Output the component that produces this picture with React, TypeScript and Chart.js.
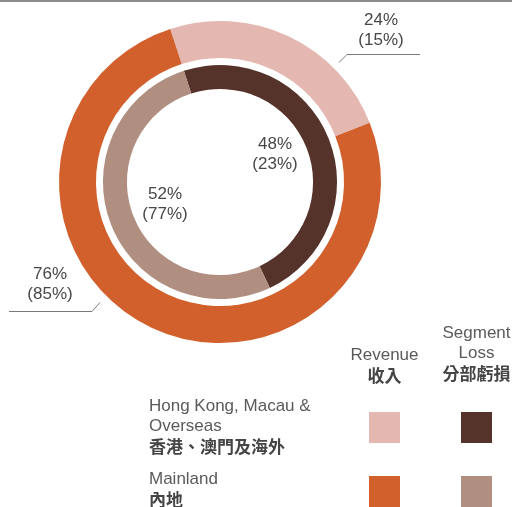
import React, { useEffect, useRef } from "react";
import { Chart, registerables } from "chart.js";

Chart.register(...registerables);

// ---- data ----
const regionsEn = ["Hong Kong, Macau &\nOverseas", "Mainland"];
const regionsZh = ["香港、澳門及海外", "內地"];
const revenueShare = [24, 76];
const revenuePrior = [15, 85];
const lossShare = [48, 52];
const lossPrior = [23, 77];
const revenueColors = ["#E4B7B0", "#D2602D"];
const lossColors = ["#56332A", "#B08F81"];
const seriesTitlesEn = ["Revenue", "Segment\nLoss"];
const seriesTitlesZh = ["收入", "分部虧損"];

const FONT = '"Liberation Sans", Arial, Helvetica, "Noto Sans CJK TC", sans-serif';
const CJK = '"Noto Sans CJK TC", "Noto Sans CJK SC", sans-serif';

const leaderLines = {
  id: "leaderLines",
  afterDraw(chart: any) {
    const ctx = chart.ctx;
    ctx.save();
    ctx.strokeStyle = "#7a7a7a";
    ctx.lineWidth = 1;
    ctx.beginPath();
    ctx.moveTo(339, 62.5);
    ctx.lineTo(347, 54.5);
    ctx.lineTo(420, 54.5);
    ctx.moveTo(9, 311.5);
    ctx.lineTo(92, 311.5);
    ctx.lineTo(100, 302.5);
    ctx.stroke();
    ctx.restore();
  },
};

function pct(v: number, p: number) {
  return `${v}%\n(${p}%)`;
}

const labelStyle = (cx: number, top: number): React.CSSProperties => ({
  position: "absolute",
  left: cx - 60,
  width: 120,
  top,
  textAlign: "center",
  fontFamily: FONT,
  fontSize: 17,
  lineHeight: "20px",
  color: "#474747",
  whiteSpace: "pre-line",
});

export default function App() {
  const ref = useRef<HTMLCanvasElement | null>(null);

  useEffect(() => {
    if (!ref.current) return;
    const chart = new Chart(ref.current, {
      type: "doughnut",
      data: {
        labels: regionsZh,
        datasets: [
          {
            data: revenueShare,
            backgroundColor: revenueColors,
            borderWidth: 0,
            weight: 37,
          } as any,
          {
            data: [100],
            backgroundColor: ["rgba(0,0,0,0)"],
            borderWidth: 0,
            weight: 7,
          } as any,
          {
            data: lossShare,
            backgroundColor: lossColors,
            borderWidth: 0,
            weight: 24,
          } as any,
        ],
      },
      options: {
        responsive: false,
        animation: false,
        cutout: "57.8%",
        rotation: -18,
        layout: { padding: { left: 59, top: 21, right: 131, bottom: 164 } },
        plugins: { legend: { display: false }, tooltip: { enabled: false } },
        events: [],
      },
      plugins: [leaderLines],
    });
    return () => chart.destroy();
  }, []);

  const titleBlock = (cx: number, top: number, en: string, zh: string) => (
    <div style={labelStyle(cx, top)}>
      <div style={{ color: "#5a5a5a" }}>{en}</div>
      <div style={{ fontFamily: CJK, fontWeight: 700, color: "#454545" }}>{zh}</div>
    </div>
  );

  const rowTops = [396, 469];
  const squareTops = [412, 476];
  const colCenters = [384.5, 476.5];

  return (
    <div
      style={{
        position: "fixed",
        left: 0,
        top: 0,
        width: 512,
        height: 507,
        overflow: "hidden",
        background: "#fff",
      }}
    >
      <div style={{ position: "absolute", left: 0, top: 0, width: 512, height: 2, background: "#8c8c8c" }} />
      <canvas ref={ref} width={512} height={507} style={{ position: "absolute", left: 0, top: 0 }} />

      <div style={labelStyle(381, 10)}>{pct(revenueShare[0], revenuePrior[0])}</div>
      <div style={labelStyle(50, 264)}>{pct(revenueShare[1], revenuePrior[1])}</div>
      <div style={labelStyle(275, 134)}>{pct(lossShare[0], lossPrior[0])}</div>
      <div style={labelStyle(165, 184)}>{pct(lossShare[1], lossPrior[1])}</div>

      {titleBlock(colCenters[0], 345, seriesTitlesEn[0], seriesTitlesZh[0])}
      {titleBlock(colCenters[1], 323, seriesTitlesEn[1], seriesTitlesZh[1])}

      {regionsEn.map((en, i) => (
        <div
          key={en}
          style={{
            position: "absolute",
            left: 149,
            top: rowTops[i],
            width: 200,
            fontFamily: FONT,
            fontSize: 17,
            lineHeight: "20px",
            whiteSpace: "pre-line",
          }}
        >
          <div style={{ color: "#5a5a5a" }}>{en}</div>
          <div style={{ fontFamily: CJK, fontWeight: 700, color: "#454545" }}>{regionsZh[i]}</div>
        </div>
      ))}

      {regionsEn.map((en, i) => (
        <React.Fragment key={"sq" + i}>
          <div
            style={{
              position: "absolute",
              left: colCenters[0] - 15.5,
              top: squareTops[i],
              width: 31,
              height: 31,
              background: revenueColors[i],
            }}
          />
          <div
            style={{
              position: "absolute",
              left: colCenters[1] - 15.5,
              top: squareTops[i],
              width: 31,
              height: 31,
              background: lossColors[i],
            }}
          />
        </React.Fragment>
      ))}
    </div>
  );
}
